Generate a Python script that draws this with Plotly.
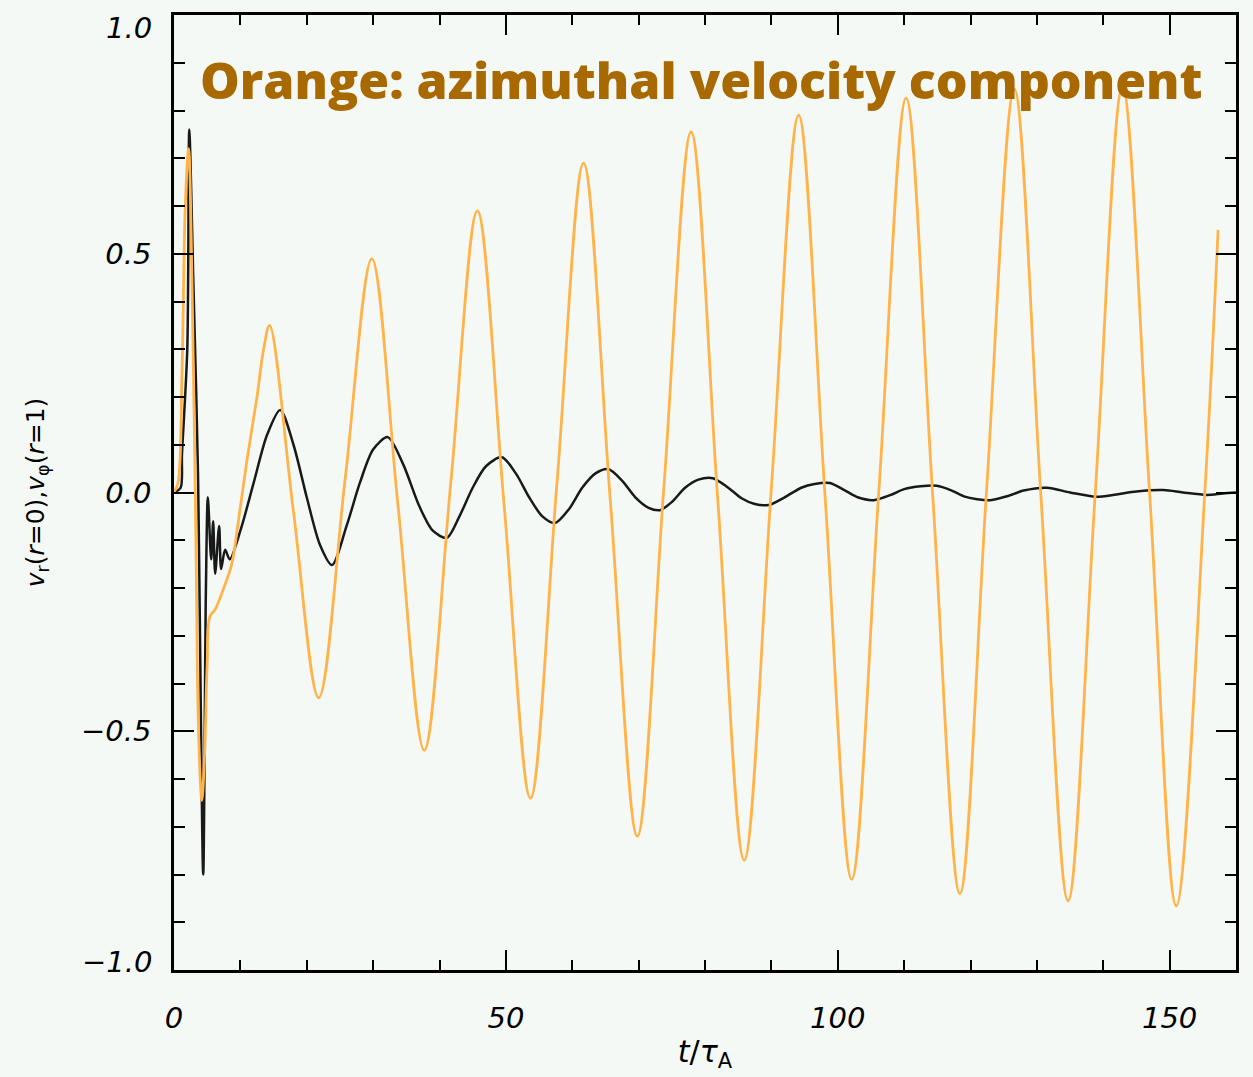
import plotly.graph_objects as go

# Orange: azimuthal velocity component v_phi(r=1)
orange_t = [0, 0.6, 1.2, 1.7, 2.2, 2.7, 3.3, 3.7, 4.2, 4.6, 5.0, 5.4, 6.2, 7.5, 8.7, 9.6, 11.0, 12.5, 13.5,
            14.4, 18.0, 21.8, 25.8, 29.8, 33.7, 37.7, 41.7, 45.7, 49.7, 53.7, 57.7, 61.7, 65.7, 69.8, 73.8,
            77.9, 81.9, 85.9, 90.0, 94.1, 98.1, 102.1, 106.2, 110.3, 114.3, 118.4, 122.4, 126.6, 130.6,
            134.7, 138.8, 142.9, 147.0, 151.0, 155.3, 157.3]
orange_v = [0, 0.02, 0.25, 0.6, 0.72, 0.45, -0.1, -0.5, -0.645, -0.55, -0.36, -0.26, -0.245, -0.2, -0.15, -0.07,
            0.068, 0.2, 0.3,
            0.35, -0.04, -0.43, 0.03, 0.49, -0.02, -0.54, 0.02, 0.59, -0.02, -0.64, 0.02, 0.69, -0.01, -0.72, 0.01,
            0.755, -0.01, -0.77, 0.01, 0.79, -0.01, -0.81, 0.005, 0.826, -0.005, -0.84, 0.0, 0.845, -0.005,
            -0.855, 0.0, 0.85, -0.005, -0.866, 0.0, 0.55]

# Black: radial velocity component v_r(r=0)
black_t = [0, 1.0, 1.2, 2.0, 2.3, 2.9, 3.6, 4.4, 4.8, 5.1, 5.6, 5.9, 6.2, 6.8, 7.1, 7.7, 8.4,
           10, 12, 14, 16.0, 18, 20, 22, 23.8, 26, 28, 30, 32.2, 34.5, 37, 39, 41.1, 43, 45, 47, 49.4,
           51.5, 53.5, 55.5, 57.4, 59.5, 61.5, 63.5, 65.4, 67.5, 69.5, 71.5, 73.2, 75, 77, 79, 81.2,
           83.5, 85.5, 87.5, 89.6, 92, 94.5, 96.5, 98.8, 101, 103, 105.4, 108, 110, 112.5, 114.9, 117,
           119, 121, 123, 125.5, 128, 131.5, 135, 138.9, 142, 145, 149.1, 152, 155.6, 158, 160]
black_v = [0, 0.01, 0.08, 0.3, 0.76, 0.45, 0.05, -0.80, -0.21, -0.01, -0.14, -0.06, -0.17, -0.07, -0.16, -0.12, -0.14,
           -0.08, 0.02, 0.12, 0.173, 0.10, -0.01, -0.11, -0.152, -0.07, 0.02, 0.09, 0.116, 0.06, -0.03, -0.08, -0.095,
           -0.05, 0.01, 0.055, 0.074, 0.04, -0.01, -0.05, -0.064, -0.035, 0.01, 0.04, 0.049, 0.025, -0.01, -0.032,
           -0.037, -0.02, 0.01, 0.027, 0.030, 0.01, -0.012, -0.024, -0.026, -0.01, 0.01, 0.018, 0.020, 0.005,
           -0.01, -0.016, -0.005, 0.007, 0.013, 0.014, 0.005, -0.008, -0.014, -0.016, -0.008, 0.004, 0.01, 0.0,
           -0.009, -0.004, 0.002, 0.005, 0.0, -0.005, -0.002, 0.0]

x_ticks = [0, 50, 100, 150]
x_ticklabels = ["0", "50", "100", "150"]
y_ticks = [-1.0, -0.5, 0.0, 0.5, 1.0]
y_ticklabels = ["\u22121.0", "\u22120.5", "0.0", "0.5", "1.0"]
title_text = "Orange: azimuthal velocity component"

bg = "rgb(245,249,246)"
tick_font = dict(family="DejaVu Sans", size=29, color="black", style="italic")

fig = go.Figure()
fig.add_trace(go.Scatter(x=black_t, y=black_v, mode="lines",
                         line=dict(color="rgb(25,25,25)", width=2.5, shape="spline", smoothing=0.8),
                         showlegend=False))
fig.add_trace(go.Scatter(x=orange_t, y=orange_v, mode="lines",
                         line=dict(color="rgb(255,180,75)", width=2.8, shape="spline", smoothing=1.0),
                         showlegend=False))

# y tick labels: inner ones via the axis, end ones pulled inward like the original
mid_idx = [1, 2, 3]
fig.update_layout(
    width=1253, height=1077,
    margin=dict(l=174, r=17, t=15, b=107),
    paper_bgcolor=bg, plot_bgcolor=bg,
    showlegend=False,
    xaxis=dict(range=[0, 160], showgrid=False, zeroline=False,
               showline=True, linecolor="black", linewidth=2.5, mirror="ticks",
               ticks="inside", ticklen=20, tickwidth=2, tickcolor="black",
               tickvals=x_ticks, ticktext=x_ticklabels, tickfont=tick_font,
               ticklabelstandoff=20, ticklabeloverflow="allow",
               minor=dict(dtick=10, ticks="inside", ticklen=10, tickwidth=2, tickcolor="black", showgrid=False),
               title=dict(text="<i>t</i>/<i>\u03c4</i><sub>A</sub>",
                          font=dict(family="DejaVu Sans", size=30, color="black"), standoff=8)),
    yaxis=dict(range=[-1.0, 1.0], showgrid=False, zeroline=False,
               showline=True, linecolor="black", linewidth=2.5, mirror="ticks",
               ticks="inside", ticklen=20, tickwidth=2, tickcolor="black",
               tickvals=y_ticks,
               ticktext=[y_ticklabels[i] if i in mid_idx else "" for i in range(len(y_ticks))],
               tickfont=tick_font,
               ticklabelstandoff=14, ticklabeloverflow="allow",
               minor=dict(dtick=0.1, ticks="inside", ticklen=11, tickwidth=2, tickcolor="black", showgrid=False),
               title=dict(text="<i>v</i><sub>r</sub>(<i>r</i>=0),<i>v</i><sub>\u03c6</sub>(<i>r</i>=1)",
                          font=dict(family="DejaVu Sans", size=25, color="black"), standoff=30)),
)

for i, shift in ((0, 8), (4, -13)):
    fig.add_annotation(text=y_ticklabels[i], xref="paper", yref="y", x=0, y=y_ticks[i],
                       xanchor="right", yanchor="middle", xshift=-20, yshift=shift, showarrow=False,
                       font=tick_font)

fig.add_annotation(text=title_text, xref="paper", yref="paper",
                   x=0.497, y=0.932, xanchor="center", yanchor="middle", showarrow=False,
                   font=dict(family="Open Sans", size=50, color="rgb(168,106,0)", weight=800))

fig.write_html("out.html")
